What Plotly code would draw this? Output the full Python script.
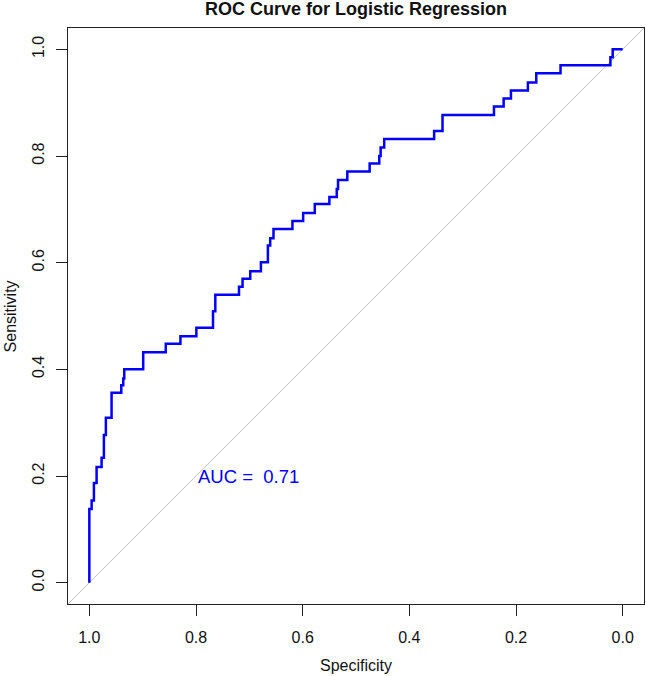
import plotly.graph_objects as go

# ROC curve corner points (specificity, sensitivity)
specificity = [1.0, 1.0, 0.9957, 0.9914, 0.9864, 0.9770, 0.9727, 0.9690, 0.9583,
               0.9401, 0.9364, 0.9345, 0.8990, 0.8567, 0.8292, 0.7993, 0.7681,
               0.7638, 0.7194, 0.7127, 0.6983, 0.6783, 0.6652, 0.6609, 0.6547,
               0.6192, 0.5991, 0.5773, 0.5499, 0.5361, 0.5337, 0.5163, 0.4744,
               0.4564, 0.4538, 0.4471, 0.3535, 0.3378, 0.2413, 0.2232, 0.2095,
               0.1777, 0.1620, 0.1165, 0.0230, 0.0187, 0.0]
sensitivity = [0.0, 0.138, 0.154, 0.187, 0.217, 0.234, 0.277, 0.309, 0.356,
               0.370, 0.383, 0.400, 0.432, 0.448, 0.462, 0.478, 0.509,
               0.540, 0.555, 0.570, 0.584, 0.601, 0.632, 0.646, 0.663,
               0.678, 0.693, 0.710, 0.723, 0.738, 0.755, 0.771, 0.786,
               0.800, 0.816, 0.832, 0.847, 0.877, 0.893, 0.908, 0.923,
               0.938, 0.955, 0.970, 0.985, 1.0, 1.0]

tick_values = [0.0, 0.2, 0.4, 0.6, 0.8, 1.0]
tick_labels = ["0.0", "0.2", "0.4", "0.6", "0.8", "1.0"]
auc_value = 0.71
title_text = "ROC Curve for Logistic Regression"

FONT = "Liberation Sans, Arial, sans-serif"

fig = go.Figure()

# reference diagonal (abline across whole region)
fig.add_trace(go.Scatter(
    x=[1.04, -0.04], y=[-0.04, 1.04], mode="lines",
    line=dict(color="#c4c4c4", width=1), hoverinfo="skip", showlegend=False))

fig.add_trace(go.Scatter(
    x=specificity, y=sensitivity, mode="lines",
    line=dict(color="#0000ff", width=2.5, shape="hv"),
    showlegend=False))

fig.add_annotation(
    x=0.8, y=0.2, xref="x", yref="y", text=f"AUC =  {auc_value:.2f}",
    showarrow=False, xanchor="left", yanchor="middle",
    font=dict(family=FONT, size=18.5, color="#0000ff"))

axis_common = dict(
    tickmode="array", tickvals=tick_values, ticktext=tick_labels,
    ticks="outside", ticklen=11, tickwidth=1, tickcolor="#222",
    showline=True, linecolor="#222", linewidth=1, mirror=True,
    showgrid=False, zeroline=False,
    tickfont=dict(family=FONT, size=16, color="#111"),
)

fig.update_xaxes(range=[1.04, -0.04], ticklabelstandoff=8, **axis_common)
fig.update_yaxes(range=[-0.04, 1.04], tickangle=-90, ticklabelstandoff=6,
                 **axis_common)

# axis titles
fig.add_annotation(x=0.5, y=-0.107, xref="paper", yref="paper",
                   text="Specificity", showarrow=False,
                   xanchor="center", yanchor="middle",
                   font=dict(family=FONT, size=16, color="#111"))
fig.add_annotation(x=-0.10, y=0.5, xref="paper", yref="paper",
                   text="Sensitivity", showarrow=False, textangle=-90,
                   xanchor="center", yanchor="middle",
                   font=dict(family=FONT, size=16, color="#111"))

fig.update_layout(
    width=646, height=676,
    margin=dict(l=68, r=2, t=28, b=72),
    paper_bgcolor="white", plot_bgcolor="white",
    title=dict(text=f"<b>{title_text}</b>", x=356 / 646, xanchor="center",
               xref="container", yref="container",
               y=1 - 9 / 676, yanchor="middle",
               font=dict(family=FONT, size=18, color="#111")),
)

fig.write_html("out.html",
               config={"displayModeBar": False},
               post_script="document.body.style.margin='0';"
                           "document.body.style.overflow='hidden';")
